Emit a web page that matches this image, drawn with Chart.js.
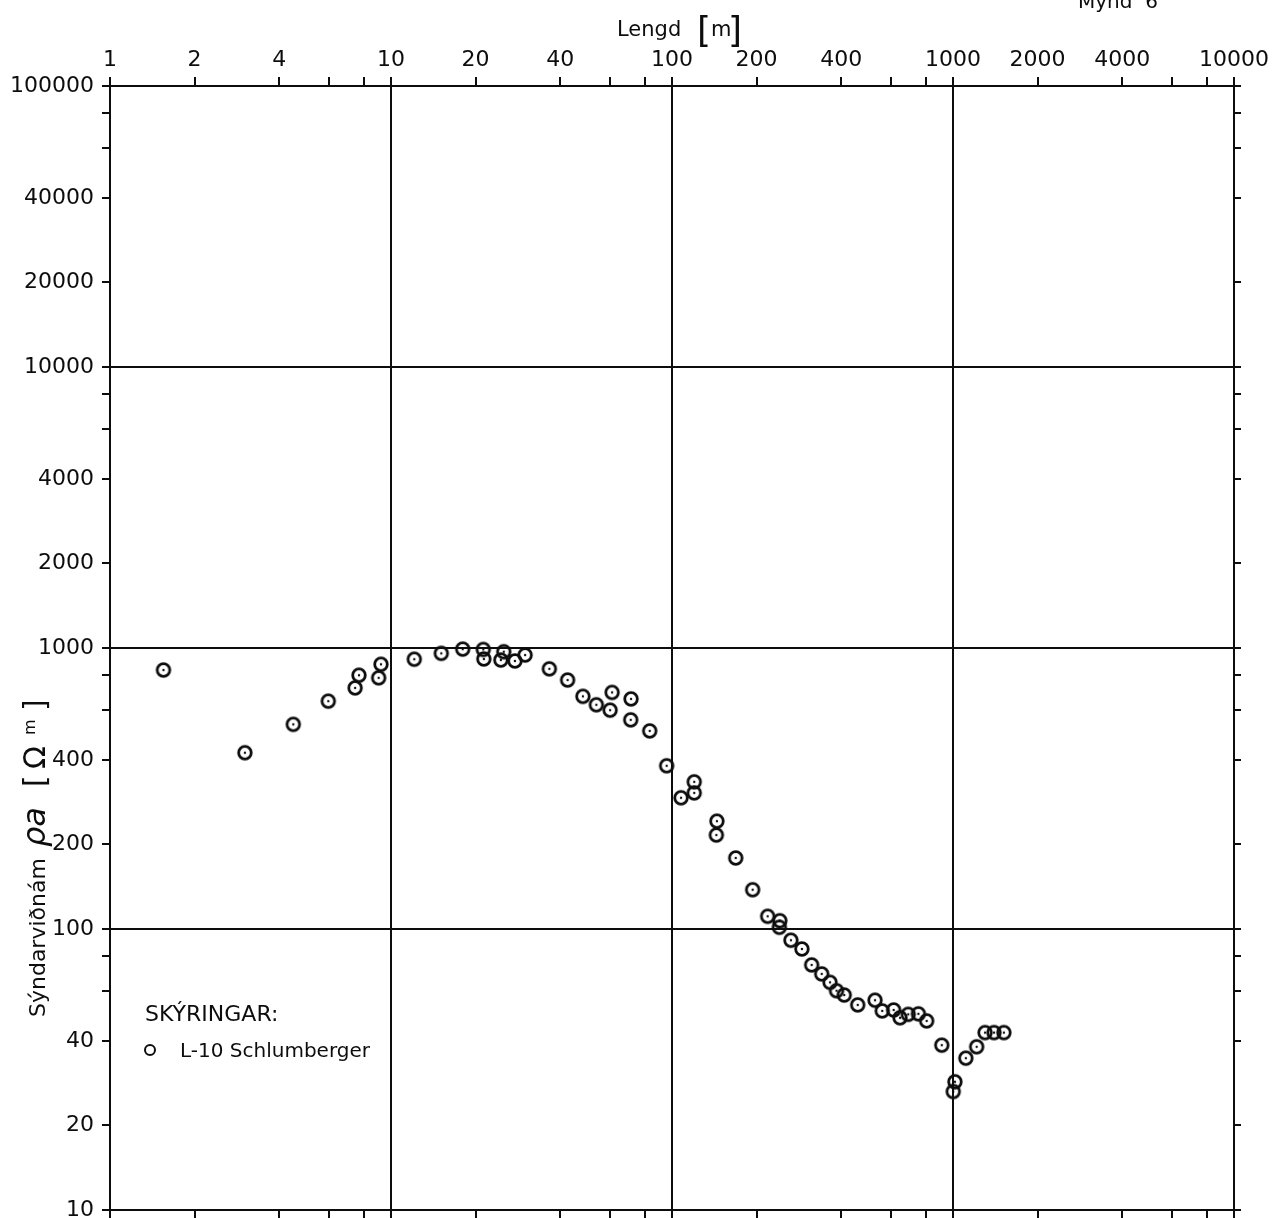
<!DOCTYPE html>
<html>
<head>
<meta charset="utf-8">
<script src="https://cdn.jsdelivr.net/npm/chart.js@4.4.1/dist/chart.umd.min.js"></script>
<style>
  body { margin: 0; background: #fff; }
</style>
</head>
<body>
<canvas id="soundingChart" width="1275" height="1218"></canvas>
<script>
// L-10 Schlumberger sounding (Mynd 6)
var spacing = [1.55, 3.02, 4.49, 5.98, 7.45, 7.69, 9.04, 9.21, 12.1, 15.1, 18.0, 21.3, 21.4, 24.6, 25.2, 27.6, 30.0,
    36.6, 42.5, 48.2, 53.8, 61.2, 60.2, 71.5, 71.3, 83.3, 95.7, 107.7, 120, 120, 144.5, 143.8, 168.6,
    193.7, 219, 242, 241, 265, 290, 314, 341, 365, 385, 410, 458, 528, 560, 615, 648, 693, 753, 806,
    912, 1016, 1002, 1111, 1214, 1300, 1400, 1518];
var resistivity = [835, 424, 535, 647, 721, 800, 783, 875, 912, 957, 991, 988, 914, 906, 970, 899, 944,
    843, 769, 673, 628, 695, 601, 659, 555, 507, 381, 293, 334, 305, 242, 216, 179,
    138, 111, 107, 101.4, 91.2, 84.9, 74.5, 69.2, 64.6, 60.3, 58.2, 53.7, 55.8, 51.1, 51.5, 48.3, 49.7, 49.9, 47.1,
    38.6, 28.6, 26.4, 34.7, 38.1, 42.8, 42.8, 42.8];

var xTicks = [1, 2, 4, 6, 8, 10, 20, 40, 60, 80, 100, 200, 400, 600, 800, 1000, 2000, 4000, 6000, 8000, 10000];
var xLabels = [1, 2, 4, 10, 20, 40, 100, 200, 400, 1000, 2000, 4000, 10000];
var yTicks = [10, 20, 40, 60, 80, 100, 200, 400, 600, 800, 1000, 2000, 4000, 6000, 8000,
    10000, 20000, 40000, 60000, 80000, 100000];
var yLabels = [10, 20, 40, 100, 200, 400, 1000, 2000, 4000, 10000, 20000, 40000, 100000];

var ink = '#0d0d0d';
var font = '"DejaVu Sans", sans-serif';

// open circle with a dot in the middle
var marker = document.createElement('canvas');
marker.width = 22;
marker.height = 22;
var m = marker.getContext('2d');
m.strokeStyle = ink;
m.lineWidth = 2.8;
m.beginPath();
m.arc(11, 11, 6.3, 0, Math.PI * 2);
m.stroke();
m.fillStyle = ink;
m.beginPath();
m.arc(11, 11, 1.2, 0, Math.PI * 2);
m.fill();

function isDecade(v) {
    var l = Math.log10(v);
    return Math.abs(l - Math.round(l)) < 1e-9;
}

function fixSize(prop, size) {
    return function (scale) {
        scale[prop] = size;
        scale.paddingLeft = 0;
        scale.paddingRight = 0;
        scale.paddingTop = 0;
        scale.paddingBottom = 0;
    };
}

function gridOpts(tickLen, onArea) {
    return {
        drawOnChartArea: onArea,
        color: function (c) {
            return c.tick && isDecade(c.tick.value) ? ink : 'rgba(0,0,0,0)';
        },
        lineWidth: 2,
        tickColor: ink,
        tickWidth: 2,
        tickLength: tickLen
    };
}

function tickList(list) {
    return function (scale) {
        scale.ticks = list.map(function (v) { return { value: v }; });
    };
}

function labelFrom(list) {
    return function (value) {
        return list.indexOf(value) >= 0 ? String(value) : '';
    };
}

var border = { display: true, color: ink, width: 2 };

var annotate = {
    id: 'annotate',
    afterDraw: function (chart) {
        var ctx = chart.ctx;
        ctx.save();
        ctx.fillStyle = ink;
        ctx.strokeStyle = ink;
        ctx.textBaseline = 'alphabetic';
        ctx.textAlign = 'left';

        // top title
        ctx.font = '21px ' + font;
        ctx.fillText('Lengd', 617, 36);
        ctx.fillText('m', 711, 36);
        ctx.font = '36px ' + font;
        ctx.fillText('[', 697, 42);
        ctx.fillText(']', 728, 42);

        ctx.font = '20px ' + font;
        ctx.fillText('Mynd  6', 1078, 8);

        // legend
        ctx.font = '22px ' + font;
        ctx.fillText('SKÝRINGAR:', 145, 1021);
        ctx.font = '20px ' + font;
        ctx.fillText('L-10 Schlumberger', 180, 1057);
        ctx.lineWidth = 2;
        ctx.beginPath();
        ctx.arc(150, 1050, 5, 0, Math.PI * 2);
        ctx.stroke();

        // y title
        ctx.translate(45, 1017);
        ctx.rotate(-Math.PI / 2);
        ctx.font = '22px ' + font;
        ctx.fillText('Sýndarviðnám', 0, 0);
        ctx.font = 'italic 32px ' + font;
        ctx.fillText('ρa', 170, 0);
        ctx.font = '30px ' + font;
        ctx.fillText('[', 230, 0);
        ctx.fillText('Ω', 248, 0);
        ctx.fillText(']', 306, 0);
        ctx.font = '16px ' + font;
        ctx.fillText('m', 282, -10);
        ctx.restore();
    }
};

var points = spacing.map(function (x, i) { return { x: x, y: resistivity[i] }; });

var ctx = document.getElementById('soundingChart').getContext('2d');
var chart = new Chart(ctx, {
    type: 'scatter',
    data: {
        datasets: [{
            label: 'L-10 Schlumberger',
            data: points,
            pointStyle: marker,
            pointRadius: 7,
            xAxisID: 'x',
            yAxisID: 'y'
        }]
    },
    options: {
        responsive: false,
        animation: false,
        layout: { padding: 0 },
        plugins: {
            legend: { display: false },
            tooltip: { enabled: false }
        },
        scales: {
            x: {
                type: 'logarithmic',
                position: 'top',
                min: 1,
                max: 10000,
                afterBuildTicks: tickList(xTicks),
                afterFit: fixSize('height', 86),
                ticks: {
                    autoSkip: false,
                    maxRotation: 0,
                    padding: 4,
                    color: ink,
                    font: { family: font, size: 22 },
                    callback: labelFrom(xLabels)
                },
                grid: gridOpts(9, true),
                border: border
            },
            x2: {
                type: 'logarithmic',
                position: 'bottom',
                min: 1,
                max: 10000,
                afterBuildTicks: tickList(xTicks),
                afterFit: fixSize('height', 8),
                ticks: { display: false },
                grid: gridOpts(8, false),
                border: border
            },
            y: {
                type: 'logarithmic',
                position: 'left',
                min: 10,
                max: 100000,
                afterBuildTicks: tickList(yTicks),
                afterFit: fixSize('width', 110),
                ticks: {
                    autoSkip: false,
                    padding: 8,
                    color: ink,
                    font: { family: font, size: 22 },
                    callback: labelFrom(yLabels)
                },
                grid: gridOpts(8, true),
                border: border
            },
            y2: {
                type: 'logarithmic',
                position: 'right',
                min: 10,
                max: 100000,
                afterBuildTicks: tickList(yTicks),
                afterFit: fixSize('width', 41),
                ticks: { display: false },
                grid: gridOpts(7, false),
                border: border
            }
        }
    },
    plugins: [annotate]
});
</script>
</body>
</html>
